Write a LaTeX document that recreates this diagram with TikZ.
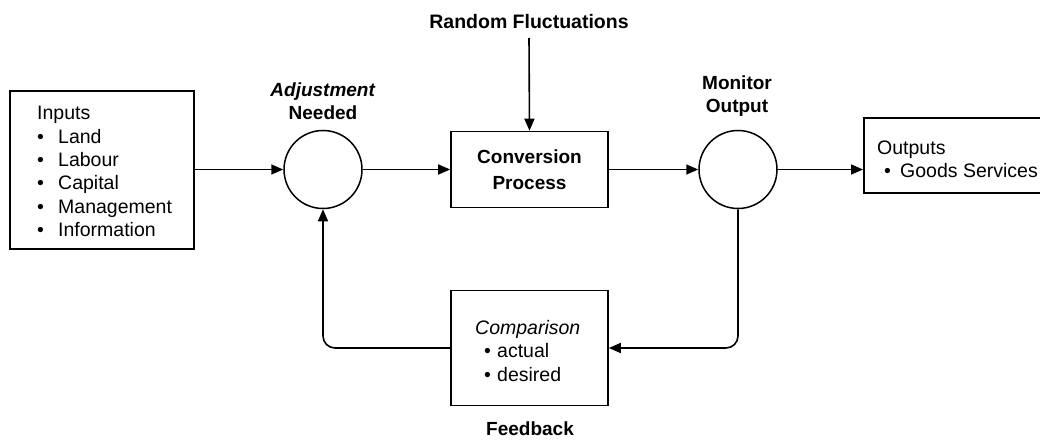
\documentclass[tikz,border=0pt]{standalone}
\usepackage{fontspec}
\setmainfont{Liberation Sans}
\usetikzlibrary{arrows.meta}
\begin{document}
\begin{tikzpicture}[x=1pt,y=-1pt,
  box/.style={draw, line width=1.6pt, inner sep=0pt},
  ring/.style={draw, circle, line width=1.5pt, minimum size=78pt, inner sep=0pt},
  flow/.style={line width=1.6pt, -{Triangle[length=12pt,width=10pt]}},
  head/.style={font=\fontsize{19}{23}\selectfont\bfseries, align=center, inner sep=0pt},
  txt/.style={font=\fontsize{19.5}{23}\selectfont, inner sep=0pt, anchor=base west}]
\useasboundingbox (0,0) rectangle (1040,441);
\clip (0,0) rectangle (1040,441);

% boxes and circles
\node[box, anchor=north west, minimum width=184pt, minimum height=158pt] (inputs) at (9,90) {};
\node[ring] (adj) at (323,169.5) {};
\node[box, minimum width=157pt, minimum height=76pt, head, align=center,
      font=\fontsize{19}{26}\selectfont\bfseries] (conv) at (529.5,169.5) {Conversion\\Process};
\node[ring] (mon) at (738,169.5) {};
\node[box, anchor=north west, minimum width=200pt, minimum height=75pt] (outs) at (863,117) {};
\node[box, minimum width=157pt, minimum height=115pt] (comp) at (529.5,348) {};

% input list
\node[txt] (inhead) at (37,120) {Inputs};
\foreach \w [count=\i] in {Land,Labour,Capital,Management,Information}{
  \node[txt] (inb\i) at (37,120+23.3*\i) {\textbullet};
  \node[txt] (init\i) at (58,120+23.3*\i) {\w};
}

% output list
\node[txt] (outhead) at (877,154) {Outputs};
\node[txt] (outb) at (884,177) {\textbullet};
\node[txt] (outit) at (900,177) {Goods Services};

% comparison list
\node[txt, font=\fontsize{19.5}{23}\selectfont\itshape] (comphead) at (475,334) {Comparison};
\node[txt] (cb1) at (484,357) {\textbullet};
\node[txt] (ci1) at (497,357) {actual};
\node[txt] (cb2) at (484,381) {\textbullet};
\node[txt] (ci2) at (497,381) {desired};

% headings
\node[head, font=\fontsize{19.5}{23}\selectfont\bfseries] (rf) at (529,22) {Random Fluctuations};
\node[head] (adjlbl) at (323,101) {\textit{Adjustment}\\Needed};
\node[head] (monlbl) at (737,96.5) {Monitor\\Output};
\node[head] (fb) at (530,429) {Feedback};
\coordinate (rftop) at (529,38);

% connectors
\draw[flow] (inputs.east |- adj.west) -- (adj.west);
\draw[flow] (adj.east) -- (conv.west);
\draw[flow] (rftop) -- (conv.north);
\draw[flow] (conv.east) -- (mon.west);
\draw[flow] (mon.east) -- (mon.east -| outs.west);
\draw[flow, rounded corners=12pt] (mon.south) |- (comp.east);
\draw[flow, rounded corners=12pt] (comp.west) -| (adj.south);
\end{tikzpicture}
\end{document}
